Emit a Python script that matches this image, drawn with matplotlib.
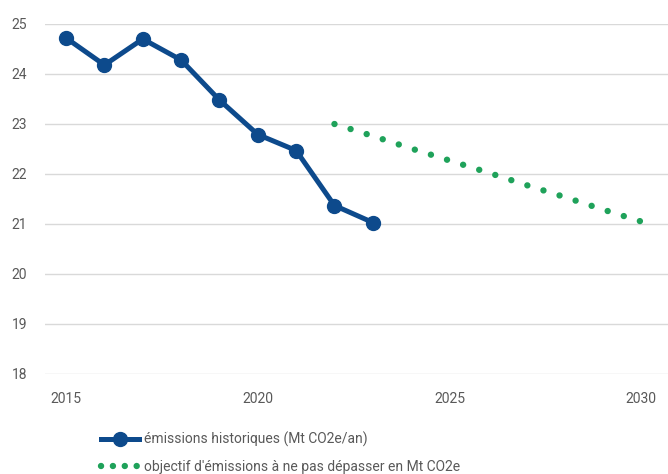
import matplotlib.pyplot as plt
from matplotlib.lines import Line2D

plt.rcParams['font.family'] = ['Liberation Sans Narrow', 'Roboto', 'DejaVu Sans']

# Historical emissions (Mt CO2e/yr)
hist_years = [2015, 2016, 2017, 2018, 2019, 2020, 2021, 2022, 2023]
hist_values = [24.72, 24.18, 24.70, 24.28, 23.48, 22.79, 22.47, 21.37, 21.03]

# Target trajectory not to exceed
target_years = [2022, 2023, 2024, 2025, 2026, 2027, 2028, 2029, 2030]
target_values = [23.00, 22.76, 22.51, 22.27, 22.03, 21.78, 21.54, 21.29, 21.05]

y_ticks = [18, 19, 20, 21, 22, 23, 24, 25]
x_ticks = [2015, 2020, 2025, 2030]

hist_label = "émissions historiques (Mt CO2e/an)"
target_label = "objectif d'émissions à ne pas dépasser en Mt CO2e"

blue = "#0d4a8c"
green = "#1fa25a"
grey = "#595959"

fig = plt.figure(figsize=(6.68, 4.74), dpi=100)
ax = fig.add_axes([45 / 668, 1 - 374 / 474, 623 / 668, 350 / 474])

ax.plot(hist_years, hist_values, color=blue, linewidth=3.6, marker='o',
        markersize=10, solid_joinstyle='round', zorder=3)
# round dots, spaced so that one falls on each end of the line
ax.plot(target_years, target_values, color=green, linewidth=4.6,
        dashes=(0.01, 2.63), dash_capstyle='round', zorder=3)

ax.set_ylim(18, 25)
ax.set_xlim(2014.45, 2030.7)
ax.set_yticks(y_ticks)
ax.set_xticks(x_ticks)
ax.grid(axis='y', color='#d9d9d9', linewidth=1)
ax.set_axisbelow(True)
for s in ax.spines.values():
    s.set_visible(False)
ax.tick_params(length=0, labelsize=10, labelcolor=grey)
ax.tick_params(axis='x', pad=13)
ax.tick_params(axis='y', pad=13)

h1 = Line2D([], [], color=blue, linewidth=3.6, marker='o', markersize=10)
h2 = Line2D([], [], color=green, linewidth=4.6, dashes=(0.01, 1.85),
            dash_capstyle='round')
fig.legend([h1, h2], [hist_label, target_label], loc='upper left',
           bbox_to_anchor=(88 / 668, 1 - 419 / 474), frameon=False,
           fontsize=10, labelcolor=grey, handlelength=2.75,
           handletextpad=0.35, labelspacing=0.95)

fig.savefig("out.png", dpi=100)
